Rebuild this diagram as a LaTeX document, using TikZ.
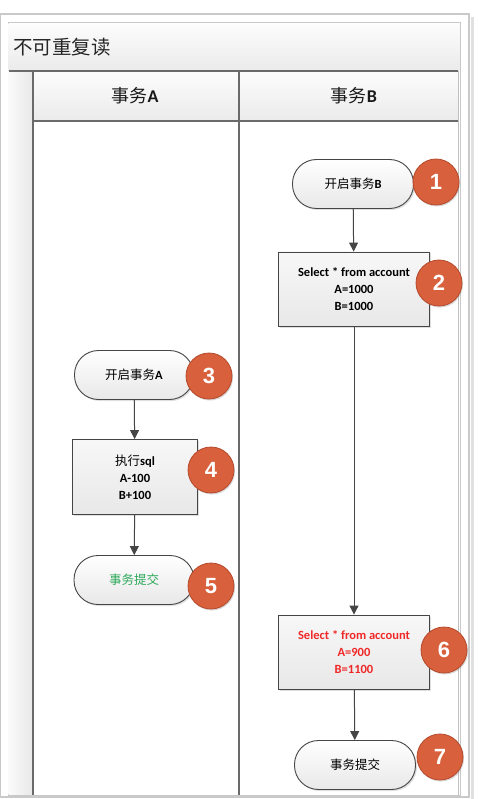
\documentclass[tikz,border=0pt]{standalone}
\usepackage{fontspec}
\setmainfont{Carlito}
\newfontfamily\cjk{Noto Sans CJK SC}
\newfontfamily\numfont{Liberation Sans}
\usetikzlibrary{arrows.meta,shadows}
\definecolor{framegray}{HTML}{C9C9C9}
\definecolor{darkline}{HTML}{6A6A6A}
\definecolor{conn}{HTML}{454545}
\definecolor{badge}{HTML}{D8603C}
\definecolor{badgeline}{HTML}{B54A2C}
\definecolor{redtxt}{HTML}{F02828}
\definecolor{greentxt}{HTML}{2EA85A}
\newcommand{\zh}[1]{{\cjk\mdseries #1}}
\tikzset{
  term/.style={draw=conn, line width=0.9pt, rounded corners=24pt, minimum width=121pt, minimum height=49pt,
    top color=white, bottom color=black!9, align=center, font=\fontsize{12.5}{17}\selectfont\bfseries,
    drop shadow={shadow xshift=1.5pt, shadow yshift=-1.5pt, opacity=0.25}},
  procbox/.style={draw=conn, line width=0.9pt, minimum width=151pt, minimum height=74pt,
    top color=black!3, bottom color=black!9, align=center, font=\fontsize{12.5}{17}\selectfont\bfseries,
    drop shadow={shadow xshift=1.5pt, shadow yshift=-1.5pt, opacity=0.25}},
  numc/.style={circle, fill=badge, draw=badgeline, line width=0.8pt, minimum size=46pt, inner sep=0pt,
    text=white, font=\numfont\fontsize{22}{22}\selectfont\bfseries,
    drop shadow={shadow xshift=1pt, shadow yshift=-1.5pt, opacity=0.3}},
  flow/.style={draw=conn, line width=1pt, -{Triangle[length=9pt,width=9pt]}},
  lanehead/.style={font=\fontsize{18}{18}\selectfont, text=black!90}
}
\begin{document}
\begin{tikzpicture}[x=1pt,y=-1pt]
\useasboundingbox (0,0) rectangle (478,799);
\fill[white] (0,0) rectangle (478,799);
% outer frame with shadow
\fill[black!12] (471,17) rectangle (474,799);
\draw[framegray, line width=1.2pt, fill=white] (0.6,14) rectangle (469,797);
% inner pool
\draw[framegray, line width=1pt, fill=white] (8,23) rectangle (460,795);
% title band
\shade[top color=black!1, bottom color=black!8] (8.5,23.5) rectangle (459.5,71);
\node[anchor=west, inner sep=0pt, font=\cjk\fontsize{19.5}{20}\selectfont, text=black!85] (title) at (13,47) {不可重复读};
% gutter and header band
\shade[left color=black!2, right color=black!9] (8.5,71) rectangle (33,794.5);
\shade[top color=black!1, bottom color=black!8] (33,71) rectangle (458,121);
\draw[black!25, line width=0.8pt] (458,71) -- (458,794.5);
\draw[darkline, line width=1.3pt] (9,71) -- (458,71);
\draw[darkline, line width=1.3pt] (33,121) -- (458,121);
\draw[darkline, line width=1.3pt] (33,71) -- (33,794.5);
\draw[darkline, line width=1.3pt] (239,71) -- (239,794.5);
\node[lanehead] (headA) at (135,96) {\zh{事务}\textbf{A}};
\node[lanehead] (headB) at (354,96) {\zh{事务}\textbf{B}};
% lane B nodes
\node[term] (b1) at (353,184) {\zh{开启事务}B};
\node[procbox] (b2) at (354,289) {Select * from account\\A=1000\\B=1000};
\node[procbox, text=redtxt] (b6) at (354,652) {Select * from account\\A=900\\B=1100};
\node[term] (b7) at (355,765) {\zh{事务提交}};
% lane A nodes
\node[term, minimum width=119pt] (a3) at (134,375) {\zh{开启事务}A};
\node[procbox, minimum width=125pt, minimum height=75pt] (a4) at (135,477) {\zh{执行}sql\\A-100\\B+100};
\node[term, minimum width=120pt, text=greentxt] (a5) at (134,580) {\zh{事务提交}};
% connectors
\draw[flow] (b1) -- (b2);
\draw[flow] (b2) -- (b6);
\draw[flow] (b6) -- (b7);
\draw[flow] (a3) -- (a4);
\draw[flow] (a4) -- (a5);
% badges
\node[numc] (n1) at (436,182) {1};
\node[numc] (n2) at (439,283) {2};
\node[numc] (n3) at (209,376) {3};
\node[numc] (n4) at (211,470) {4};
\node[numc] (n5) at (211,586) {5};
\node[numc] (n6) at (444,650) {6};
\node[numc] (n7) at (440,757) {7};
\end{tikzpicture}
\end{document}
